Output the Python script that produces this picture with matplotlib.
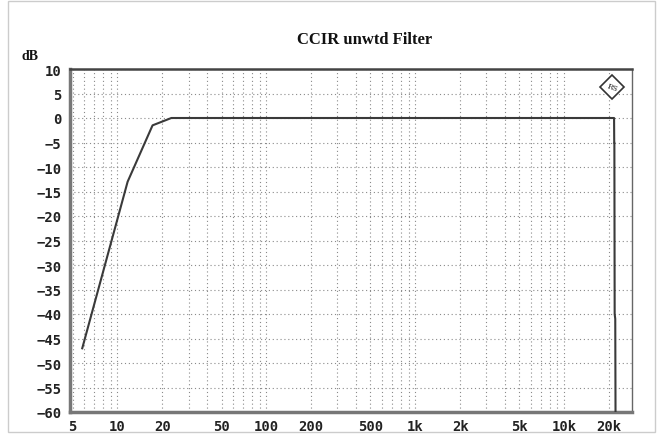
import matplotlib
matplotlib.use("Agg")
import matplotlib.pyplot as plt
from matplotlib.patches import Rectangle

# Data
freq_hz = [5.8, 11.7, 17.2, 23.0, 21600, 21650, 21700, 21800, 22000, 22100]
level_db = [-47, -13, -1.5, 0, 0, -5, -5, -40, -41, -62]

x_ticks = [5, 10, 20, 50, 100, 200, 500, 1000, 2000, 5000, 10000, 20000]
x_labels = ["5", "10", "20", "50", "100", "200", "500", "1k", "2k", "5k", "10k", "20k"]
y_ticks = [10, 5, 0, -5, -10, -15, -20, -25, -30, -35, -40, -45, -50, -55, -60]
title = "CCIR unwtd Filter"
y_unit = "dB"

fig = plt.figure(figsize=(6.6, 4.35), dpi=100)
fig.patch.set_facecolor("white")
ax = fig.add_axes([70 / 660, 1 - 413 / 435, (632 - 70) / 660, (413 - 70) / 435])
ax.set_xscale("log")
ax.set_xlim(4.8, 28500)
ax.set_ylim(-60, 10)

# grid: every integer multiple per decade, dotted
minor_x = []
for dec in [1, 10, 100, 1000, 10000]:
    for m in range(1, 10):
        v = m * dec
        if 4.8 < v < 28500:
            minor_x.append(v)
for v in minor_x:
    ax.axvline(v, color="#8a8a8a", lw=0.8, ls=(0, (1, 2.5)), zorder=1)
for v in y_ticks:
    ax.axhline(v, color="#8a8a8a", lw=0.8, ls=(0, (1, 2.5)), zorder=1)

ax.plot(freq_hz, level_db, color="#3a3a3a", lw=1.5, zorder=3, clip_on=True)

ax.set_xticks(x_ticks)
ax.set_xticklabels(x_labels)
ax.xaxis.set_minor_locator(matplotlib.ticker.NullLocator())
ax.set_yticks(y_ticks)
ax.set_yticklabels([str(v).replace("-", "\u2212") for v in y_ticks])
ax.tick_params(axis="both", length=0, labelsize=10, colors="#222222")
ax.tick_params(axis="x", pad=5)
ax.tick_params(axis="y", pad=6)
for lab in ax.get_xticklabels() + ax.get_yticklabels():
    lab.set_family("DejaVu Sans Mono")
    lab.set_fontweight("bold")

for side in ["left", "bottom"]:
    ax.spines[side].set_linewidth(2.5)
    ax.spines[side].set_color("#777777")
ax.spines["top"].set_linewidth(1.8)
ax.spines["top"].set_color("#444444")
ax.spines["right"].set_linewidth(1.0)
ax.spines["right"].set_color("#666666")

fig.text(365 / 660, 1 - 40 / 435, title, ha="center", va="center",
         fontsize=12, fontweight="bold", family="Liberation Serif", color="#111111")
fig.text(30 / 660, 1 - 57 / 435, y_unit, ha="center", va="center",
         fontsize=10, fontweight="bold", family="Liberation Serif", color="#111111")

# R&S style logo
lx, ly = (612 - 70) / 562, 1 - (88 - 70) / 343
ax.plot([lx], [ly], transform=ax.transAxes, marker="D", ms=12,
        mfc="white", mec="#333333", mew=1.2, zorder=4, clip_on=False)
ax.text(lx, ly, "RS", transform=ax.transAxes, ha="center", va="center",
        fontsize=5.5, family="DejaVu Serif", color="#222222", rotation=-20, zorder=5)

# faint image border
fig.patches.append(Rectangle((8 / 660, 2 / 435), (655 - 8) / 660, (433 - 2) / 435,
                             transform=fig.transFigure, fill=False,
                             ec="#cccccc", lw=1.0))

fig.savefig("out.png", dpi=100, facecolor="white")
